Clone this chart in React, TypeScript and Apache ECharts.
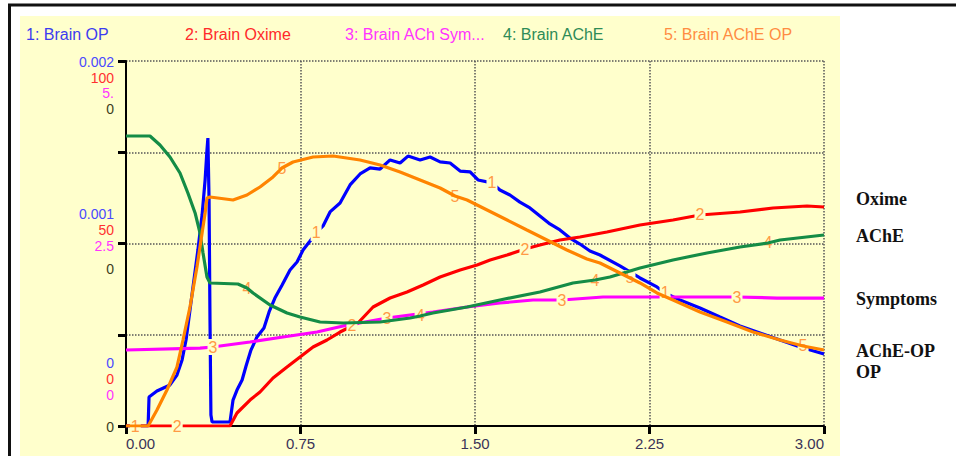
import React, { useEffect, useRef } from "react";
import * as echarts from "echarts";

// ---- data ----
const legendTexts = ["1: Brain OP", "2: Brain Oxime", "3: Brain ACh Sym...", "4: Brain AChE", "5: Brain AChE OP"];
const seriesNames = ["Brain OP", "Brain Oxime", "Brain ACh Symptoms", "Brain AChE", "Brain AChE OP"];
const rightLabels = ["Oxime", "AChE", "Symptoms", "AChE-OP", "OP"];

const xTicks = [0, 0.75, 1.5, 2.25, 3];

const opTickLabels = ["0", "0.001", "0.002"];
const oximeTickLabels = ["0", "50", "100"];
const symptomTickLabels = ["0", "2.5", "5."];
const acheTickLabels = ["0", "0", "0"];

const brainOP = [
  [0, 0], [0.04, 0], [0.095, 0], [0.099, 0.000159], [0.133, 0.000192], [0.189, 0.000225], [0.219, 0.000279],
  [0.241, 0.000362], [0.258, 0.000471], [0.275, 0.000636], [0.292, 0.0008], [0.309, 0.000964], [0.327, 0.001156],
  [0.34, 0.001348], [0.348, 0.001512], [0.352, 0.001578], [0.357, 0.001238], [0.361, 0.000581], [0.365, 0.00006],
  [0.37, 0.000022], [0.447, 0.000022], [0.46, 0.000142], [0.477, 0.000197], [0.499, 0.000252], [0.516, 0.000329],
  [0.537, 0.000416], [0.563, 0.000488], [0.593, 0.000537], [0.615, 0.000625], [0.64, 0.000701], [0.671, 0.000773],
  [0.705, 0.000855], [0.735, 0.000899], [0.761, 0.000964], [0.791, 0.001014], [0.817, 0.001058], [0.847, 0.001096],
  [0.877, 0.001173], [0.92, 0.001222], [0.963, 0.001321], [1.006, 0.001381], [1.049, 0.001414], [1.092, 0.001408],
  [1.135, 0.001458], [1.178, 0.001441], [1.212, 0.001479], [1.264, 0.001458], [1.307, 0.001474], [1.35, 0.001447],
  [1.393, 0.001441], [1.436, 0.001397], [1.479, 0.001392], [1.513, 0.001348], [1.573, 0.001332], [1.607, 0.001293],
  [1.65, 0.001266], [1.693, 0.001227], [1.736, 0.001195], [1.779, 0.001151], [1.822, 0.001107], [1.865, 0.001074],
  [1.908, 0.00103], [1.951, 0.000997], [1.994, 0.000959], [2.037, 0.000937], [2.123, 0.000877], [2.209, 0.000811],
  [2.282, 0.000762], [2.317, 0.000729], [2.381, 0.00069], [2.467, 0.000647], [2.553, 0.000597], [2.639, 0.000548],
  [2.725, 0.00051], [2.811, 0.000471], [2.897, 0.000433], [3, 0.000395],
];

const brainOxime = [
  [0, 0], [0.22, 0], [0.447, 0], [0.477, 3.56], [0.533, 7.12], [0.576, 9.32], [0.632, 13.15], [0.692, 16.16],
  [0.748, 18.9], [0.804, 21.64], [0.864, 23.56], [0.92, 25.75], [0.971, 27.4], [0.997, 28.22], [1.062, 32.6],
  [1.135, 35.07], [1.208, 36.71], [1.277, 38.63], [1.35, 40.82], [1.436, 42.74], [1.509, 44.11], [1.565, 45.48],
  [1.638, 46.85], [1.715, 48.49], [1.779, 49.59], [1.865, 50.96], [1.951, 51.78], [2.067, 53.15], [2.209, 55.07],
  [2.351, 56.44], [2.467, 57.81], [2.639, 58.63], [2.781, 59.73], [2.927, 60.27], [3, 60.0],
];

const brainSymptoms = [
  [0, 1.041], [0.318, 1.068], [0.374, 1.082], [0.404, 1.096], [0.533, 1.151], [0.675, 1.219], [0.821, 1.288],
  [0.933, 1.37], [1.122, 1.479], [1.319, 1.562], [1.466, 1.63], [1.607, 1.685], [1.749, 1.726], [1.874, 1.726],
  [2.05, 1.767], [2.282, 1.767], [2.626, 1.767], [2.798, 1.753], [3, 1.753],
];

const brainAChE = [
  [0, 0.7945], [0.103, 0.7945], [0.146, 0.7699], [0.189, 0.737], [0.232, 0.6932], [0.266, 0.6384], [0.297, 0.5836],
  [0.318, 0.5288], [0.331, 0.474], [0.348, 0.4082], [0.361, 0.3918], [0.481, 0.389], [0.52, 0.378], [0.546, 0.3644],
  [0.619, 0.3315], [0.692, 0.3096], [0.748, 0.2986], [0.834, 0.2849], [0.933, 0.2822], [1.092, 0.2849],
  [1.221, 0.2959], [1.264, 0.3014], [1.319, 0.3096], [1.466, 0.326], [1.607, 0.3452], [1.779, 0.3671],
  [1.921, 0.3918], [2.016, 0.4], [2.08, 0.4082], [2.209, 0.4329], [2.351, 0.4548], [2.497, 0.474], [2.639, 0.4904],
  [2.759, 0.5014], [2.811, 0.5096], [3, 0.5233],
];

const brainAChEOP = [
  [0, 0], [0.095, 0], [0.133, 0.0438], [0.176, 0.0986], [0.219, 0.1616], [0.245, 0.2356], [0.275, 0.326],
  [0.305, 0.4356], [0.327, 0.5288], [0.34, 0.5836], [0.348, 0.6247], [0.361, 0.6274], [0.46, 0.6192], [0.52, 0.6329],
  [0.576, 0.6548], [0.632, 0.6822], [0.67, 0.7068], [0.718, 0.7233], [0.804, 0.737], [0.89, 0.7397], [1.006, 0.7288],
  [1.092, 0.7151], [1.178, 0.6959], [1.264, 0.674], [1.35, 0.6521], [1.414, 0.6301], [1.466, 0.6192], [1.552, 0.5918],
  [1.638, 0.5644], [1.723, 0.537], [1.809, 0.5096], [1.895, 0.4822], [1.981, 0.4575], [2.037, 0.4466], [2.123, 0.4192],
  [2.166, 0.4055], [2.209, 0.3918], [2.282, 0.3644], [2.351, 0.3452], [2.467, 0.3123], [2.583, 0.2849],
  [2.695, 0.2575], [2.811, 0.2356], [2.91, 0.2192], [3, 0.2082],
];

const labelX1 = [0.04, 0.817, 1.573, 2.317];
const labelX2 = [0.22, 0.971, 1.715, 2.467];
const labelX3 = [0.374, 1.122, 1.874, 2.626];
const labelX4 = [0.52, 1.264, 2.016, 2.759];
const labelX5 = [0.67, 1.414, 2.166, 2.91];

// ---- styling ----
const BG = "#FFFFCC";
const lineColors = ["#0000ff", "#ff0000", "#ff00ff", "#148c46", "#ff8400"];
const legendColors = ["#3c3cf0", "#ff2a2a", "#ff33ff", "#2e8b57", "#ff8c42"];
const tickColors = ["#4a4aff", "#ff3030", "#ff33ff", "#3d3d1d"];
const NUM_COLOR = "#ff9a45";
const SANS = "'Liberation Sans', Arial, sans-serif";
const SERIF = "'Liberation Serif', 'Times New Roman', serif";

function nearest(data: number[][], x: number) {
  let best = data[0];
  for (const p of data) if (Math.abs(p[0] - x) < Math.abs(best[0] - x)) best = p;
  return best;
}

export default function App() {
  const ref = useRef<HTMLDivElement>(null);

  useEffect(() => {
    if (!ref.current) return;
    const chart = echarts.init(ref.current, undefined, { renderer: "svg" });

    const allData = [brainOP, brainOxime, brainSymptoms, brainAChE, brainAChEOP];
    const allLabelX = [labelX1, labelX2, labelX3, labelX4, labelX5];
    const axisIdx = [0, 1, 2, 3, 3];

    const series = allData.map((d, i) => ({
      name: seriesNames[i],
      type: "line",
      yAxisIndex: axisIdx[i],
      data: d,
      showSymbol: false,
      symbol: "none",
      lineStyle: { color: lineColors[i], width: 3.2 },
      itemStyle: { color: lineColors[i] },
      z: 2 + i,
      markPoint: {
        symbol: "rect",
        symbolSize: [11, 16],
        itemStyle: { color: BG },
        label: {
          show: true,
          position: "inside",
          color: NUM_COLOR,
          fontSize: 16,
          fontWeight: "normal",
          fontFamily: SANS,
          formatter: String(i + 1),
        },
        data: allLabelX[i].map((x) => ({ coord: nearest(d, x) })),
      },
    }));

    const tickGroups = [opTickLabels, oximeTickLabels, symptomTickLabels, acheTickLabels];
    // stacked y-axis labels, [bottom, middle, top] rows
    const tickY = [
      [363, 214, 62],
      [379, 230, 78],
      [395, 246, 93],
      [427, 269, 109],
    ];
    const tickTexts: any[] = [];
    tickGroups.forEach((labels, a) => {
      labels.forEach((t, k) => {
        tickTexts.push({
          type: "text",
          z: 10,
          style: {
            text: t,
            x: 114,
            y: tickY[a][k],
            align: "right",
            verticalAlign: "middle",
            fill: tickColors[a],
            fontSize: 14,
            lineHeight: 14,
            fontFamily: SANS,
          },
        });
      });
    });

    const legendX = [26, 185, 345, 503, 664];
    const legendItems = legendTexts.map((t, i) => ({
      type: "text",
      z: 10,
      style: {
        text: t,
        x: legendX[i],
        y: 34,
        align: "left",
        verticalAlign: "middle",
        fill: legendColors[i],
        fontSize: 16,
        fontFamily: SANS,
      },
    }));

    const rightY = [199, 236, 299, 351, 372];
    const rightItems = rightLabels.map((t, i) => ({
      type: "text",
      z: 10,
      style: {
        text: t,
        x: 856,
        y: rightY[i],
        align: "left",
        verticalAlign: "middle",
        fill: "#111111",
        fontSize: 18,
        lineHeight: 18,
        fontWeight: "bold",
        fontFamily: SERIF,
      },
    }));

    const gridLine = { color: "#555555", width: 1.5, type: [1.5, 1.5] as any };

    chart.setOption({
      animation: false,
      backgroundColor: "#ffffff",
      grid: { left: 126, top: 61, right: 132, bottom: 30, containLabel: false },
      xAxis: {
        type: "value",
        min: 0,
        max: 3,
        interval: 0.75,
        axisLine: { show: true, lineStyle: { color: "#000", width: 2 } },
        axisTick: { show: true, length: 8, lineStyle: { color: "#000", width: 3 } },
        splitLine: { show: true, lineStyle: gridLine },
        axisLabel: {
          show: true,
          margin: 10,
          fontSize: 15,
          fontFamily: SANS,
          color: "#3a3358",
          formatter: (v: number) => (xTicks.indexOf(v) >= 0 ? v.toFixed(2) : ""),
          alignMinLabel: "left",
          alignMaxLabel: "right",
        },
      },
      yAxis: [
        {
          type: "value",
          min: 0,
          max: 0.002,
          interval: 0.0005,
          position: "left",
          axisLine: { show: true, lineStyle: { color: "#000", width: 2 } },
          axisTick: { show: true, length: 8, lineStyle: { color: "#000", width: 3 } },
          splitLine: { show: true, lineStyle: gridLine },
          axisLabel: { show: false },
        },
        { type: "value", min: 0, max: 100, show: false, splitLine: { show: false } },
        { type: "value", min: 0, max: 5, show: false, splitLine: { show: false } },
        { type: "value", min: 0, max: 1, show: false, splitLine: { show: false } },
      ],
      graphic: [
        {
          type: "rect",
          z: -100,
          shape: { x: 20, y: 16, width: 820, height: 440 },
          style: { fill: BG },
        },
        {
          type: "line",
          z: 10,
          shape: { x1: 8, y1: 5, x2: 956, y2: 5 },
          style: { stroke: "#111", lineWidth: 3 },
        },
        {
          type: "line",
          z: 10,
          shape: { x1: 9.5, y1: 4, x2: 9.5, y2: 456 },
          style: { stroke: "#111", lineWidth: 3 },
        },
        ...legendItems,
        ...tickTexts,
        ...rightItems,
      ],
      series,
    } as any);

    return () => chart.dispose();
  }, []);

  return (
    <div
      ref={ref}
      style={{ position: "absolute", left: 0, top: 0, width: 956, height: 456 }}
    />
  );
}
